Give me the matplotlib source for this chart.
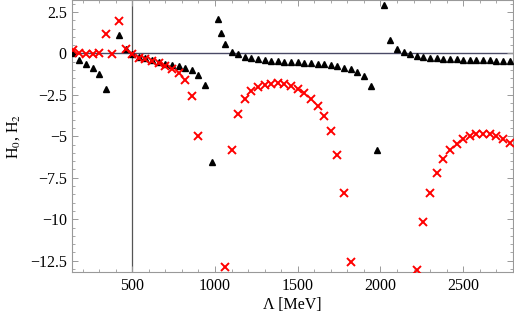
import matplotlib
matplotlib.use("Agg")
import matplotlib.pyplot as plt
from matplotlib.ticker import MultipleLocator

# H0 (triangles) values
lam_h0 = [140, 180, 220, 260, 300, 340, 420, 460, 500, 540, 580, 620, 660, 700,
          740, 780, 820, 860, 900, 940, 980, 1020, 1035, 1060, 1100, 1140, 1180,
          1220, 1260, 1300, 1340, 1380, 1420, 1460, 1500, 1540, 1580, 1620, 1660,
          1700, 1740, 1780, 1820, 1860, 1900, 1940, 1980, 2020, 2060, 2100, 2140,
          2180, 2220, 2260, 2300, 2340, 2380, 2420, 2460, 2500, 2540, 2580, 2620,
          2660, 2700, 2740, 2780]
h0 = [0.0, -0.37, -0.62, -0.87, -1.22, -2.12, 1.09, 0.27, -0.05, -0.2, -0.3, -0.42,
      -0.54, -0.62, -0.69, -0.78, -0.87, -1.02, -1.3, -1.92, -6.57, 2.1, 1.2, 0.54,
      0.1, -0.06, -0.2, -0.28, -0.36, -0.4, -0.44, -0.48, -0.5, -0.52, -0.54, -0.56,
      -0.58, -0.62, -0.66, -0.72, -0.78, -0.86, -0.96, -1.1, -1.38, -1.97, -5.83,
      2.9, 0.79, 0.29, 0.09, -0.03, -0.13, -0.21, -0.27, -0.3, -0.31, -0.34, -0.36,
      -0.37, -0.39, -0.4, -0.42, -0.42, -0.44, -0.46, -0.48]

# H2 (crosses) values
lam_h2 = [140, 180, 220, 260, 300, 340, 380, 420, 460, 500, 540, 580, 620, 660, 700,
          740, 780, 820, 860, 900, 1060, 1100, 1140, 1180, 1220, 1260, 1300, 1340,
          1380, 1420, 1460, 1500, 1540, 1580, 1620, 1660, 1700, 1740, 1780, 1820,
          2220, 2260, 2300, 2340, 2380, 2420, 2460, 2500, 2540, 2580, 2620, 2660,
          2700, 2740, 2780]
h2 = [0.2, 0.03, -0.03, -0.03, 0.05, 1.19, -0.01, 1.96, 0.29, -0.03, -0.27, -0.35,
      -0.47, -0.6, -0.74, -0.92, -1.18, -1.63, -2.57, -5.0, -12.86, -5.8, -3.65,
      -2.73, -2.24, -2.02, -1.88, -1.82, -1.8, -1.82, -1.94, -2.12, -2.38, -2.73,
      -3.15, -3.75, -4.7, -6.1, -8.41, -12.58, -13.08, -10.19, -8.41, -7.21, -6.35,
      -5.85, -5.45, -5.15, -4.97, -4.88, -4.85, -4.88, -5.0, -5.15, -5.4]

yticks = [2.5, 0, -2.5, -5, -7.5, -10, -12.5]
ytick_labels = ["2.5", "0", "\u22122.5", "\u22125", "\u22127.5", "\u221210", "\u221212.5"]

plt.rcParams['font.family'] = ['Liberation Serif', 'DejaVu Serif']
plt.rcParams['mathtext.fontset'] = 'stix'

fig = plt.figure(figsize=(5.14, 3.13), dpi=100)
ax = fig.add_axes([0.1407, 0.13, 0.857, 0.87])

# axes through (500, 0) like the original
ax.axhline(0, color='#4a4a66', lw=1.0, zorder=1)
ax.axvline(500, color='#555555', lw=0.9, zorder=1)

ax.plot(lam_h0, h0, linestyle='none', marker='^', color='black', markersize=5, zorder=3)
ax.plot(lam_h2, h2, linestyle='none', marker='x', color='red', markersize=5.5,
        markeredgewidth=1.4, zorder=4)

ax.set_xlim(138, 2800)
ax.set_ylim(-13.2, 3.22)
ax.set_xticks([500, 1000, 1500, 2000, 2500])
ax.xaxis.set_minor_locator(MultipleLocator(100))
ax.set_yticks(yticks)
ax.set_yticklabels(ytick_labels)
ax.yaxis.set_minor_locator(MultipleLocator(0.5))

for s in ax.spines.values():
    s.set_color('#999999')
    s.set_linewidth(0.8)
ax.tick_params(which='both', direction='in', top=True, right=True, color='#999999',
               labelsize=11.5, pad=4)
ax.tick_params(which='major', length=4, width=0.7)
ax.tick_params(which='minor', length=2, width=0.6)

ax.set_xlabel("\u039b [MeV]", fontsize=11.5, labelpad=2)
ax.set_ylabel("H$_0$, H$_2$", fontsize=11.5, labelpad=6)

fig.savefig("out.png", dpi=100)
